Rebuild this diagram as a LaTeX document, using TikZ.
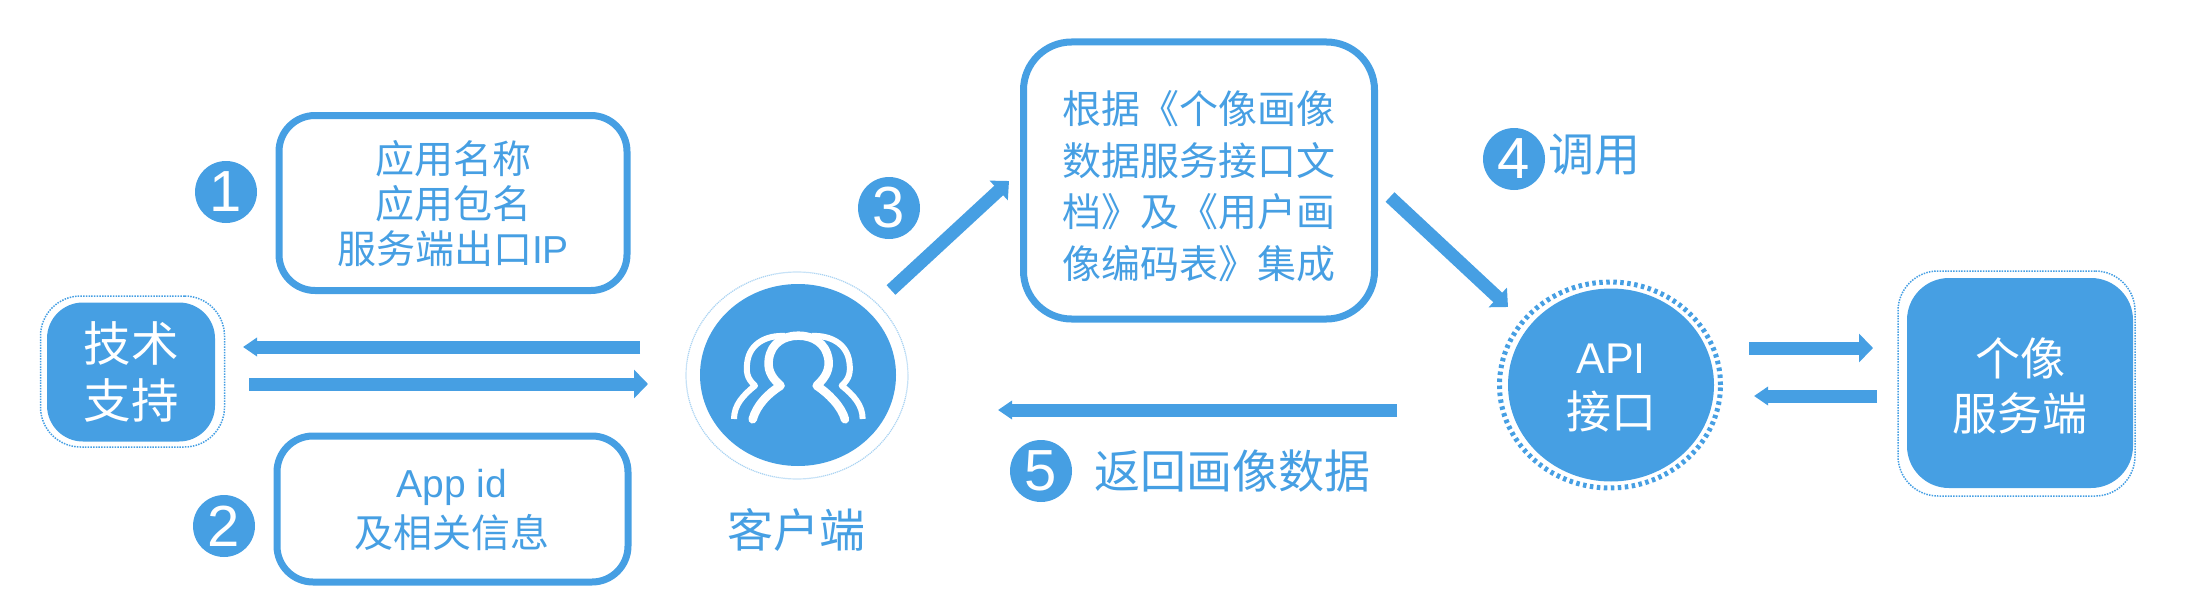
\documentclass[tikz,border=0pt]{standalone}
\usepackage{fontspec}
\usetikzlibrary{arrows.meta,shapes.geometric}
\setmainfont{Liberation Sans}
\newfontfamily\cjk{Noto Sans CJK SC}
\definecolor{bl}{HTML}{469FE3}
\definecolor{lightbl}{HTML}{A9D3F2}
\newcommand{\fs}[1]{\fontsize{#1}{#1}\selectfont}
\tikzset{
  x=1pt,y=-1pt,
  outlinebox/.style={draw=bl,line width=7pt,rounded corners=36pt,fill=white,inner sep=0pt,outer sep=0pt,minimum width=#1},
  filledbox/.style={fill=bl,rounded corners=36pt,inner sep=0pt,outer sep=0pt},
  dotbox/.style={draw=bl,line width=1.5pt,dash pattern=on 1.5pt off 1.2pt,rounded corners=40pt,inner sep=0pt,outer sep=0pt},
  numdisc/.style={circle,fill=bl,minimum size=62pt,inner sep=0pt,text=white,font=\fs{58}},
  bluetext/.style={text=bl,align=center,inner sep=0pt,font=\cjk\fs{39}},
  whitetext/.style={text=white,align=center,inner sep=0pt,font=\cjk\fs{45}},
  bigarrow/.style={draw=bl,line width=13pt,-{Triangle[length=14pt,width=#1]}},
  bigarrow/.default=28pt,
  iconline/.style={draw=white,line join=round,fill=none},
}
\begin{document}
\begin{tikzpicture}
\useasboundingbox (0,0) rectangle (2206,602);

% boxes
\node[outlinebox=348pt,minimum height=175pt] (b1) at (453,203) {};
\node[outlinebox=351pt,minimum height=146pt] (b2) at (452.5,509) {};
\node[outlinebox=351pt,minimum height=277pt,rounded corners=48pt] (b3) at (1199,180.5) {};
\node[bluetext] (t1) at (453,203.5) {应用名称\\[6pt]应用包名\\[6pt]服务端出口{\rmfamily IP}};
\node[bluetext] (t2) at (452,510) {{\rmfamily App id}\\[7pt]及相关信息};
\node[bluetext,align=left] (t3) at (1199,186) {根据《个像画像\\[12.5pt]数据服务接口文\\[12.5pt]档》及《用户画\\[12.5pt]像编码表》集成};

% technical support
\node[dotbox,minimum width=184pt,minimum height=151pt] (supo) at (132.5,371.5) {};
\node[filledbox,font=\cjk\fs{47.5},minimum width=168pt,minimum height=139pt,text=white,align=center] (sup) at (131,372) {技术\\[9pt]支持};

% client
\node[ellipse,draw=lightbl,line width=1.2pt,dash pattern=on 1.2pt off 0.8pt,minimum width=222pt,minimum height=207pt,inner sep=0pt] (cliento) at (797,375.5) {};
\node[ellipse,fill=bl,minimum width=196pt,minimum height=182pt,inner sep=0pt] (client) at (798,375) {};
\begin{scope}[shift={(660,240)},x=0.3333pt,y=-0.3333pt]
  \draw[iconline,line width=6pt] (222,537) .. controls (222,495) and (250,465) .. (285,437)
     .. controls (260,415) and (258,395) .. (262,365) .. controls (270,310) and (320,285) .. (375,288);
  \draw[iconline,line width=6pt] (608,537) .. controls (608,495) and (580,465) .. (545,437)
     .. controls (570,415) and (572,395) .. (568,365) .. controls (560,310) and (510,285) .. (455,288);
  \draw[iconline,line width=8.5pt,line cap=round] (278,538) .. controls (290,495) and (325,460) .. (362,437)
     .. controls (330,410) and (322,385) .. (327,355) .. controls (335,310) and (370,287) .. (415,287)
     .. controls (460,287) and (497,310) .. (505,355) .. controls (510,385) and (500,410) .. (470,437)
     .. controls (505,460) and (545,500) .. (555,538);
\end{scope}
\node[bluetext,font=\cjk\fs{46}] (clabel) at (796,530) {客户端};

% API
\node[ellipse,draw=bl,line width=5pt,dash pattern=on 3.5pt off 3.5pt,minimum width=221pt,minimum height=206pt,inner sep=0pt] (apio) at (1610,385) {};
\node[ellipse,fill=bl,minimum width=206pt,minimum height=193pt,inner sep=0pt] (api) at (1611,385) {};
\node[whitetext] (apit) at (1611,388) {{\rmfamily\fs{43}API}\\[10pt]接口};

% server
\node[dotbox,minimum width=237pt,minimum height=225pt] (srvo) at (2016.5,383.5) {};
\node[filledbox,rounded corners=42pt,minimum width=226pt,minimum height=210pt] (srv) at (2020,383) {};
\node[whitetext] (srvt) at (2020,386) {个像\\[10pt]服务端};

% numbers
\node[numdisc] (n1) at (226,192) {1};
\node[numdisc] (n2) at (224,526) {2};
\node[numdisc] (n3) at (889,208) {3};
\node[numdisc] (n4) at (1514,159) {4};
\node[numdisc] (n5) at (1041,471) {5};
\node[bluetext,font=\cjk\fs{46}] (call) at (1594,155) {调用};
\node[bluetext,font=\cjk\fs{46}] (ret) at (1232,471) {返回画像数据};

% arrows
\coordinate (a1s) at (640,347); \coordinate (a1e) at (243,347);
\coordinate (a2s) at (249,384); \coordinate (a2e) at (648,384);
\coordinate (a3s) at (891,290); \coordinate (a3e) at (1009,181);
\coordinate (a4s) at (1390,197); \coordinate (a4e) at (1508,307);
\coordinate (a5s) at (1397,410); \coordinate (a5e) at (998,410);
\coordinate (a6s) at (1749,348); \coordinate (a6e) at (1873,348);
\coordinate (a7s) at (1877,396); \coordinate (a7e) at (1754,396);
\draw[bigarrow=18pt] (a1s) -- (a1e);
\draw[bigarrow] (a2s) -- (a2e);
\draw[bigarrow=26pt] (a3s) -- (a3e);
\draw[bigarrow=26pt] (a4s) -- (a4e);
\draw[bigarrow=18pt] (a5s) -- (a5e);
\draw[bigarrow] (a6s) -- (a6e);
\draw[bigarrow=18pt] (a7s) -- (a7e);
\end{tikzpicture}
\end{document}
